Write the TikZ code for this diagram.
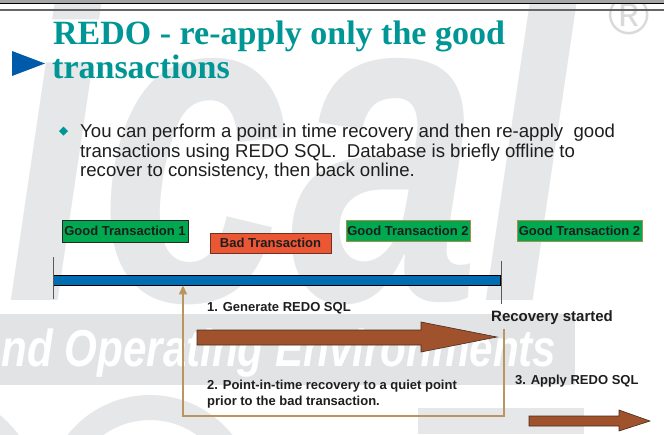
\documentclass[tikz,border=0pt]{standalone}
\usepackage{fontspec}
\setmainfont{Liberation Serif}
\setsansfont{Liberation Sans}
\usetikzlibrary{arrows.meta}

\definecolor{titleteal}{RGB}{0,150,150}
\definecolor{markblue}{RGB}{0,90,170}
\definecolor{barblue}{RGB}{0,108,178}
\definecolor{goodgreen}{RGB}{0,168,80}
\definecolor{badred}{RGB}{235,87,52}
\definecolor{arrowbrown}{RGB}{160,82,45}
\definecolor{looptan}{RGB}{185,150,95}
\definecolor{wmgray}{RGB}{230,231,233}
\definecolor{bandgray}{RGB}{226,227,229}
\definecolor{inkdark}{RGB}{30,30,30}

\tikzset{
  titletext/.style={anchor=base west, inner sep=0pt, text=titleteal,
    font={\fontsize{34}{34}\selectfont\rmfamily\bfseries}},
  bodytext/.style={anchor=base west, inner sep=0pt, text=inkdark,
    font={\fontsize{18.6}{18.6}\selectfont\sffamily}},
  steptext/.style={anchor=base west, inner sep=0pt, text=inkdark,
    font={\fontsize{13}{13}\selectfont\sffamily\bfseries}},
  txbox/.style={inner sep=0pt, line width=0.8pt, text=inkdark,
    font={\fontsize{13}{13}\selectfont\sffamily\bfseries}},
  goodbox/.style={txbox, fill=goodgreen},
  badbox/.style={txbox, fill=badred, draw={rgb,255:red,110;green,50;blue,35}},
  tick/.style={draw={rgb,255:red,90;green,90;blue,90}, line width=1pt},
  fatarrow/.style={fill=arrowbrown, draw={rgb,255:red,70;green,45;blue,30}, line width=0.6pt},
  loopline/.style={draw=looptan, line width=1.2pt,
    -{Triangle[width=8pt,length=9pt]}},
  wmtext/.style={inner sep=0pt, text=wmgray,
    font={\fontsize{450}{450}\selectfont\sffamily\bfseries\itshape}},
}

\begin{document}
\begin{tikzpicture}[x=1pt,y=-1pt]
\useasboundingbox (0,0) rectangle (664,434);
\fill[white] (0,0) rectangle (664,434);

% faint background lettering
\begin{scope}
  \clip (0,0) rectangle (664,434);
  \node[wmtext, anchor=base east, xscale=0.76] (wmword) at (576,300) {nical};
  \fill[wmgray] (-70,500) circle (110);
  \fill[wmgray, even odd rule] (150,500) circle (105) (150,500) circle (80);
  \fill[wmgray] (418,408) rectangle (584,434);
  \fill[bandgray] (0,314) rectangle (575,385);
  \node[anchor=base west, inner sep=0pt, text=white, xscale=0.81,
    font={\fontsize{52}{52}\selectfont\sffamily\bfseries\itshape}]
    (bandword) at (-22,366) {and Operating Environments};
  \node[inner sep=0pt, text={rgb,255:red,218;green,218;blue,220},
    font={\fontsize{56}{56}\selectfont\sffamily}] (regmark) at (629,15) {\textregistered};
\end{scope}

% header rules
\fill[gray!70] (0,0) rectangle (664,3);
\draw[black, line width=1pt] (0,3.5) -- (664,3.5);
\draw[black!60, line width=1.5pt] (0,10) -- (664,10);

% title
\fill[markblue] (12,51) -- (45,63.5) -- (12,76) -- cycle;
\node[titletext] (title1) at (53,44) {REDO - re-apply only the good};
\node[titletext] (title2) at (52,78) {transactions};

% bullet point
\fill[titleteal] (63.5,126.5) -- (68,131) -- (63.5,135.5) -- (59,131) -- cycle;
\node[bodytext] (body1) at (80,137) {You can perform a point in time recovery and then re-apply\ \ good};
\node[bodytext] (body2) at (80,157) {transactions using REDO SQL.\ \ Database is briefly offline to};
\node[bodytext] (body3) at (80,176) {recover to consistency, then back online.};

% transactions
\node[goodbox, draw={rgb,255:red,40;green,40;blue,40}, minimum width=126pt, minimum height=22pt]
  (good1) at (125,231) {Good Transaction 1};
\node[badbox, minimum width=121pt, minimum height=20pt] (bad) at (270.5,243) {Bad Transaction};
\node[goodbox, draw={rgb,255:red,170;green,140;blue,75}, minimum width=124pt, minimum height=21pt]
  (good2) at (408,230.5) {Good Transaction 2};
\node[goodbox, draw={rgb,255:red,170;green,140;blue,75}, minimum width=125pt, minimum height=21pt]
  (good2b) at (579.5,230.5) {Good Transaction 2};

% time line
\node[draw=black, fill=barblue, line width=0.8pt, minimum width=447pt, minimum height=10pt,
  inner sep=0pt] (bar) at (276.5,280) {};
\coordinate (startA) at (53,257);
\coordinate (startB) at (53,299);
\coordinate (endA) at (501,261);
\coordinate (endB) at (501,304);
\draw[tick] (startA) -- (startB);
\draw[tick] (endA) -- (endB);

% step labels
\node[steptext] (step1) at (207,311) {1. Generate REDO SQL};
\node[steptext, font={\fontsize{15}{15}\selectfont\sffamily\bfseries}] (recov) at (491,321) {Recovery started};
\node[steptext] (step2a) at (207,389) {2. Point-in-time recovery to a quiet point};
\node[steptext] (step2b) at (207,405) {prior to the bad transaction.};
\node[steptext] (step3) at (515,384) {3. Apply REDO SQL};

% recovery loop back to the quiet point
\coordinate (loopstart) at (504,329);
\coordinate (loopturn) at (183,416);
\draw[loopline] (loopstart) |- (loopturn) -- (loopturn |- bar.south);

% block arrows
\filldraw[fatarrow] (197,330) -- (421,330) -- (421,322) -- (497,337) -- (421,352)
  -- (421,345) -- (197,345) -- cycle;
\filldraw[fatarrow] (529,416) -- (619,416) -- (619,410) -- (650,421) -- (619,431)
  -- (619,426) -- (529,426) -- cycle;
\end{tikzpicture}
\end{document}
